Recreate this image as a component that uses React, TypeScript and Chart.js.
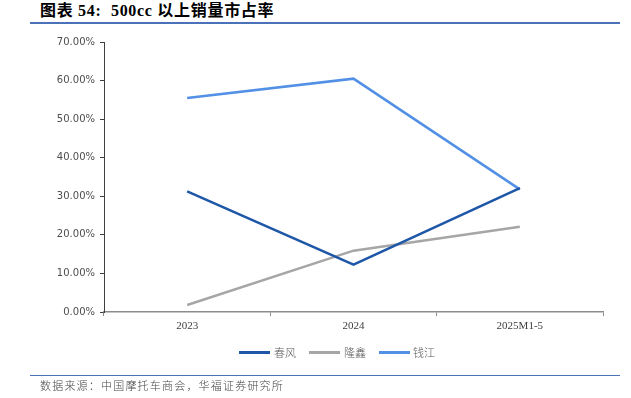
import React, { useEffect, useRef } from "react";
import { Chart, registerables } from "chart.js";

Chart.register(...registerables);

const categories = ["2023", "2024", "2025M1-5"];
const chunfeng = [31.3, 12.3, 32.1];
const longxin = [1.8, 15.9, 22.1];
const qianjiang = [55.5, 60.5, 31.8];
const seriesNames = ["春风", "隆鑫", "钱江"];
const seriesColors = ["#1F57A8", "#A6A6A6", "#5290E6"];

export default function App() {
  const ref = useRef<HTMLCanvasElement | null>(null);

  useEffect(() => {
    if (!ref.current) return;
    const chart = new Chart(ref.current, {
      type: "line",
      data: {
        labels: categories,
        datasets: [chunfeng, longxin, qianjiang].map((d, i) => ({
          label: seriesNames[i],
          data: d,
          borderColor: seriesColors[i],
          backgroundColor: seriesColors[i],
          borderWidth: 2.5,
          pointRadius: 0,
          tension: 0,
        })),
      },
      options: {
        animation: false,
        responsive: false,
        maintainAspectRatio: false,
        layout: { padding: { left: 0, top: 42, right: 28, bottom: 0 } },
        plugins: { legend: { display: false }, tooltip: { enabled: false } },
        scales: {
          x: {
            offset: true,
            grid: {
              display: true,
              offset: true,
              drawOnChartArea: false,
              drawTicks: true,
              tickLength: 4,
              color: "#8C8C8C",
            },
            border: { display: true, color: "#8C8C8C", width: 1.5 },
            ticks: {
              color: "#404040",
              font: { family: "'Liberation Serif', serif", size: 11 },
              padding: 4,
              maxRotation: 0,
            },
            afterFit: (s: any) => {
              s.height = 86;
            },
          },
          y: {
            min: 0,
            max: 70,
            grid: {
              display: true,
              drawOnChartArea: false,
              drawTicks: true,
              tickLength: 4,
              color: "#404040",
            },
            border: { display: true, color: "#404040", width: 1 },
            ticks: {
              stepSize: 10,
              color: "#4D4D4D",
              font: { family: "'DejaVu Sans', sans-serif", size: 10 },
              padding: 5,
              callback: (v: any) => Number(v).toFixed(2) + "%",
            },
            afterFit: (s: any) => {
              s.width = 104;
            },
          },
        },
      },
    });
    return () => chart.destroy();
  }, []);

  const legendItems = [
    { x: 239, tx: 274 },
    { x: 309, tx: 344 },
    { x: 379, tx: 413 },
  ];

  return (
    <div style={{ position: "absolute", left: 0, top: 0, width: 631, height: 398, background: "#fff", overflow: "hidden" }}>
      <div
        style={{
          position: "absolute",
          left: 40,
          top: 2,
          fontFamily: "'Liberation Serif', 'Noto Sans CJK SC', serif",
          fontWeight: "bold",
          fontSize: 16,
          letterSpacing: 0.7,
          color: "#000",
          whiteSpace: "nowrap",
          lineHeight: "18px",
        }}
      >
        图表 54:&nbsp; 500cc 以上销量市占率
      </div>
      <div style={{ position: "absolute", left: 30, top: 22, width: 590, height: 1.5, background: "#4A72B8" }} />
      <canvas ref={ref} width={631} height={398} style={{ position: "absolute", left: 0, top: 0, width: 631, height: 398 }} />
      {legendItems.map((it, i) => (
        <React.Fragment key={i}>
          <div style={{ position: "absolute", left: it.x, top: 351, width: 31, height: 2.5, background: seriesColors[i] }} />
          <div
            style={{
              position: "absolute",
              left: it.tx,
              top: 344,
              fontFamily: "'Noto Sans CJK SC', sans-serif",
              fontSize: 11,
              fontWeight: 300,
              lineHeight: "16px",
              color: "#555",
              whiteSpace: "nowrap",
            }}
          >
            {seriesNames[i]}
          </div>
        </React.Fragment>
      ))}
      <div style={{ position: "absolute", left: 30, top: 375, width: 590, height: 1, background: "#4A72B8" }} />
      <div
        style={{
          position: "absolute",
          left: 40,
          top: 378,
          fontFamily: "'Noto Sans CJK SC', sans-serif",
          fontSize: 11,
          fontWeight: 300,
          letterSpacing: 1.2,
          lineHeight: "15px",
          color: "#444",
          whiteSpace: "nowrap",
        }}
      >
        数据来源：中国摩托车商会，华福证券研究所
      </div>
    </div>
  );
}
